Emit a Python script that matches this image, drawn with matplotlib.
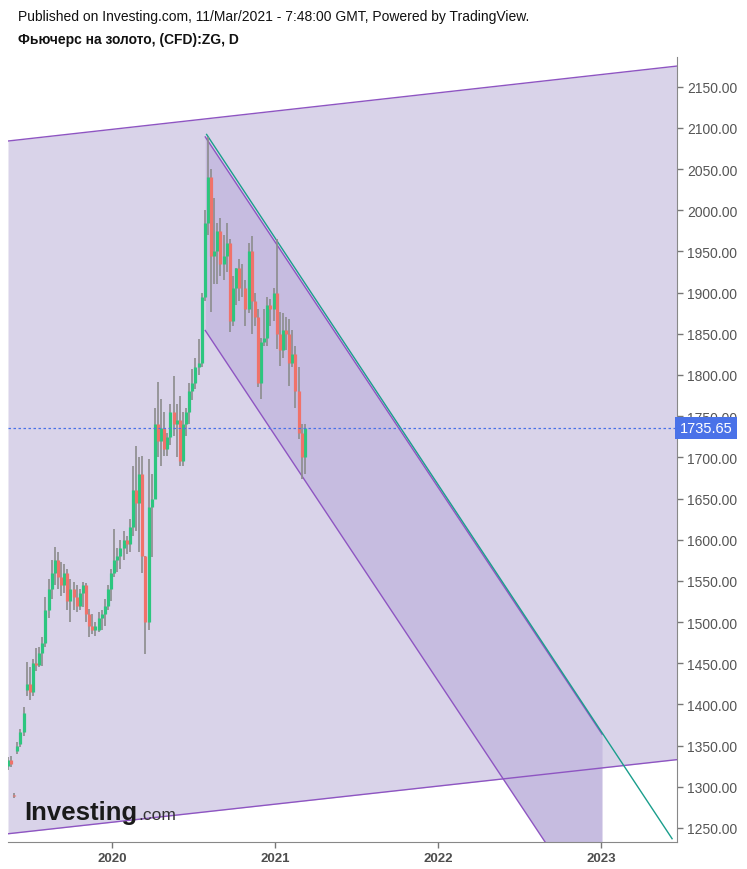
#%% Gold futures (ZG) daily chart with channels - Investing.com style
import numpy as np
import pandas as pd
import matplotlib
matplotlib.use("Agg")
import matplotlib.pyplot as plt
import matplotlib.dates as mdates
import matplotlib.transforms as mtrans

plt.rcParams['font.family'] = ['Liberation Sans', 'DejaVu Sans']

## DATA (weekly candles)
weeks = pd.date_range('2019-05-13', periods=96, freq='7D')
o = [1325, 1332, 1290, 1343, 1352, 1366, 1418, 1425, 1415, 1450, 1448, 1462,
     1475, 1515, 1540, 1560, 1575, 1555, 1545, 1560, 1525, 1540, 1530, 1520,
     1535, 1545, 1510, 1495, 1490, 1490, 1505, 1510, 1520, 1540, 1560, 1575,
     1580, 1590, 1600, 1595, 1615, 1660, 1645, 1680, 1580, 1500, 1640, 1650,
     1740, 1720, 1735, 1710, 1725, 1755, 1740, 1745, 1695, 1740, 1755, 1780,
     1790, 1810, 1815, 1895, 1985, 2040, 1945, 1950, 1975, 1935, 1945, 1960,
     1865, 1905, 1930, 1905, 1905, 1880, 1950, 1890, 1870, 1790, 1840, 1845,
     1885, 1880, 1900, 1850, 1830, 1855, 1850, 1815, 1825, 1780, 1730, 1700]
h = [1336, 1338, 1292, 1354, 1370, 1397, 1452, 1445, 1455, 1468, 1470, 1482,
     1530, 1552, 1575, 1591, 1585, 1573, 1570, 1565, 1552, 1549, 1545, 1540,
     1549, 1548, 1516, 1510, 1500, 1512, 1515, 1528, 1545, 1565, 1613, 1590,
     1600, 1610, 1605, 1625, 1690, 1714, 1700, 1702, 1580, 1698, 1680, 1760,
     1792, 1771, 1755, 1730, 1765, 1799, 1765, 1775, 1755, 1760, 1790, 1807,
     1820, 1844, 1900, 2000, 2089, 2050, 2015, 1985, 1990, 1970, 1985, 1965,
     1920, 1930, 1941, 1935, 1915, 1960, 1969, 1900, 1880, 1845, 1880, 1895,
     1892, 1905, 1965, 1877, 1875, 1870, 1868, 1855, 1835, 1810, 1740, 1740]
l = [1320, 1324, 1286, 1340, 1348, 1362, 1410, 1405, 1410, 1440, 1445, 1447,
     1470, 1505, 1528, 1545, 1540, 1532, 1535, 1515, 1500, 1515, 1512, 1515,
     1518, 1500, 1482, 1485, 1483, 1488, 1490, 1495, 1515, 1525, 1555, 1561,
     1565, 1575, 1583, 1585, 1605, 1610, 1585, 1560, 1461, 1490, 1579, 1650,
     1700, 1690, 1702, 1702, 1715, 1726, 1700, 1690, 1690, 1726, 1740, 1770,
     1783, 1800, 1810, 1890, 1970, 1877, 1910, 1910, 1920, 1915, 1925, 1852,
     1860, 1885, 1890, 1895, 1860, 1875, 1850, 1860, 1785, 1771, 1835, 1835,
     1860, 1865, 1832, 1811, 1820, 1830, 1787, 1810, 1760, 1722, 1674, 1680]
c = [1332, 1328, 1289, 1350, 1366, 1390, 1425, 1415, 1450, 1448, 1462, 1475,
     1515, 1540, 1560, 1575, 1555, 1545, 1560, 1525, 1540, 1530, 1520, 1535,
     1545, 1510, 1495, 1490, 1495, 1505, 1510, 1520, 1540, 1560, 1575, 1580,
     1590, 1600, 1595, 1615, 1660, 1645, 1680, 1580, 1500, 1640, 1650, 1740,
     1720, 1735, 1710, 1725, 1755, 1740, 1745, 1695, 1740, 1755, 1780, 1790,
     1810, 1815, 1895, 1985, 2040, 1945, 1950, 1975, 1935, 1945, 1960, 1865,
     1905, 1930, 1905, 1905, 1880, 1950, 1890, 1870, 1790, 1840, 1845, 1885,
     1880, 1900, 1850, 1830, 1855, 1850, 1815, 1825, 1780, 1730, 1700, 1735.65]
last_price = 1735.65

# Zeichnungen (Kanaele, Trendlinie)
asc_dates = ['2019-05-13', '2023-06-20']
asc_top = [2084, 2175]
asc_bot = [1243, 1333]
desc_dates = ['2020-07-28', '2023-01-03']
desc_top = [2089, 1364]
desc_bot = [1854, 1129]
teal_dates = ['2020-07-31', '2023-06-09']
teal_vals = [2092, 1237]

year_ticks = ['2020', '2021', '2022', '2023']
price_ticks = np.arange(1250, 2151, 50)

## PLOT
fig = plt.figure(figsize=(7.47, 8.70), dpi=100)
ax = fig.add_axes([8/747, 27/870, 669/747, 785/870])

x_asc = mdates.datestr2num(asc_dates)
x_desc = mdates.datestr2num(desc_dates)
x_teal = mdates.datestr2num(teal_dates)

ax.fill_between(x_asc, asc_bot, asc_top, color='#d9d3e9', lw=0, zorder=1)
ax.plot(x_asc, asc_top, color='#8e55c2', lw=1, zorder=2)
ax.plot(x_asc, asc_bot, color='#8e55c2', lw=1, zorder=2)

ax.fill_between(x_desc, desc_bot, desc_top, color='#c6bce0', lw=0, zorder=1.5)
ax.plot(x_desc, desc_top, color='#8e55c2', lw=1, zorder=2)
ax.plot(x_desc, desc_bot, color='#8e55c2', lw=1, zorder=2)
ax.plot(x_teal, teal_vals, color='#1a9e8c', lw=1, zorder=2)

# Kerzen
xd = mdates.date2num(weeks.to_pydatetime())
o = np.array(o); h = np.array(h); l = np.array(l); c = np.array(c)
up = c >= o
ax.vlines(xd, l, h, color='#8c8c8c', lw=1.2, zorder=3)
ax.vlines(xd[up], o[up], c[up], color='#2cc67f', lw=2.3, zorder=4)
ax.vlines(xd[~up], c[~up], o[~up], color='#f0726a', lw=2.3, zorder=4)

# letzter Kurs
ax.axhline(last_price, color='#4a72e8', lw=0.9, ls=(0, (2, 2)), zorder=5)
trans = mtrans.blended_transform_factory(ax.transAxes, ax.transData)
ax.text(1.004, last_price, f'{last_price:.2f}', transform=trans, ha='left', va='center',
        color='white', fontsize=10.5,
        bbox=dict(boxstyle='square,pad=0.3', fc='#4a72e8', ec='none'), zorder=6, clip_on=False)

ax.set_xlim(mdates.datestr2num('2019-05-13'), mdates.datestr2num('2023-06-20'))
ax.set_ylim(1233, 2186)

ax.set_xticks(mdates.datestr2num([y + '-01-01' for y in year_ticks]))
ax.set_xticklabels(year_ticks, fontweight='bold', fontsize=9.5)
ax.yaxis.tick_right()
ax.set_yticks(price_ticks)
ax.set_yticklabels([f'{p:.2f}' for p in price_ticks], fontsize=10)
ax.tick_params(axis='both', colors='#777777', length=4, width=1)
ax.tick_params(axis='x', labelcolor='#4d4d4d')
ax.tick_params(axis='y', labelcolor='#555555')

for s in ['left', 'top']:
    ax.spines[s].set_visible(False)
for s in ['right', 'bottom']:
    ax.spines[s].set_color('#888888')

# Texte
fig.text(18/747, 1 - 17/870, 'Published on Investing.com, 11/Mar/2021 - 7:48:00 GMT, Powered by TradingView.',
         fontsize=10, va='center', color='#111111')
fig.text(18/747, 1 - 40/870, 'Фьючерс на золото, (CFD):ZG, D', fontsize=10, fontweight='bold',
         va='center', color='#111111')

# Logo
fig.text(24/747, 1 - 820/870, 'Investing', fontsize=18.5, fontweight='bold', color='#1a1a1a', va='baseline')
fig.text(138/747, 1 - 820/870, '.com', fontsize=12.5, color='#333333', va='baseline')

fig.savefig('out.png', dpi=100)
